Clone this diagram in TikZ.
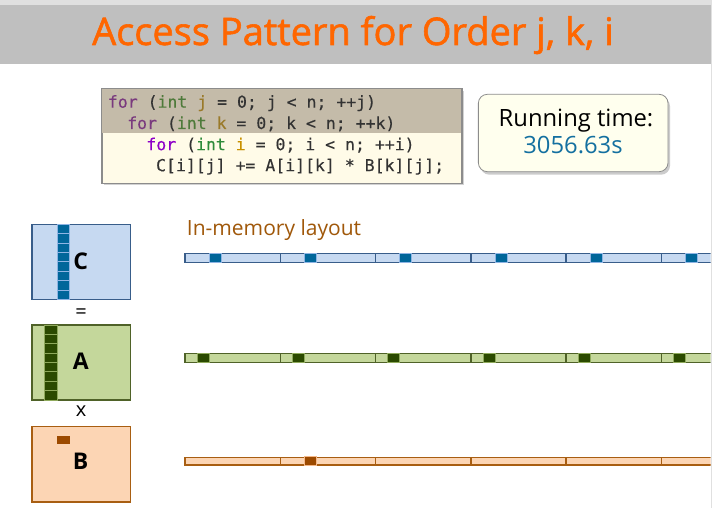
\documentclass[tikz,border=0pt]{standalone}
\usepackage{fontspec}
\setmainfont{Open Sans}
\setmonofont{DejaVu Sans Mono}
\usetikzlibrary{shadows}
\definecolor{topgray}{HTML}{E0E0E0}
\definecolor{headgray}{HTML}{BFBFBF}
\definecolor{titleorange}{HTML}{FF6600}
\definecolor{codeshade}{HTML}{C4BBA9}
\definecolor{codecream}{HTML}{FFFBE8}
\definecolor{codeborder}{HTML}{8C8C8C}
\definecolor{codetext}{HTML}{333333}
\definecolor{kwdim}{HTML}{7A3A7E}
\definecolor{intdim}{HTML}{4E7A3A}
\definecolor{vardim}{HTML}{9A7A2A}
\definecolor{kw}{HTML}{8E00C8}
\definecolor{intc}{HTML}{2E8B3A}
\definecolor{varc}{HTML}{C89000}
\definecolor{runfill}{HTML}{FFFFEE}
\definecolor{runblue}{HTML}{1470A0}
\definecolor{layoutbrown}{HTML}{A0580A}
\definecolor{cFill}{HTML}{C6D9F1}
\definecolor{cEdge}{HTML}{385D8A}
\definecolor{cDark}{HTML}{00669A}
\definecolor{cLight}{HTML}{8EB4E3}
\definecolor{aFill}{HTML}{C4D79B}
\definecolor{aEdge}{HTML}{4F6228}
\definecolor{aDark}{HTML}{2B4A00}
\definecolor{aLight}{HTML}{8FAA5C}
\definecolor{bFill}{HTML}{FCD5B4}
\definecolor{bEdge}{HTML}{A85E12}
\definecolor{bDark}{HTML}{9C4A00}
\definecolor{bLight}{HTML}{F5B888}
\tikzset{
  codeline/.style={anchor=base west, inner sep=0pt, text=codetext, font=\ttfamily\fontsize{16.5}{16}\selectfont\addfontfeatures{FakeBold=0.3}},
  matlabel/.style={inner sep=0pt, font=\bfseries\fontsize{23}{23}\selectfont},
  oplabel/.style={inner sep=0pt, font=\fontsize{20}{20}\selectfont},
}
\begin{document}
\begin{tikzpicture}[x=1pt,y=-1pt]
\useasboundingbox (0,0) rectangle (712,508);
\fill[white] (0,0) rectangle (712,508);
\fill[topgray] (0,0) rectangle (712,5);
\fill[headgray] (0,5) rectangle (710.5,64.5);
\draw[topgray, line width=1pt] (711.2,0) -- (711.2,508);
\node[anchor=base, inner sep=0pt, text=titleorange, font=\fontsize{38}{38}\selectfont\addfontfeatures{FakeBold=1.5}] (title) at (353,45) {Access Pattern for Order j, k, i};
% code box
\node[draw=codeborder, fill=codecream, line width=0.8pt, minimum width=360pt, minimum height=94.7pt, anchor=north west, inner sep=0pt, drop shadow={shadow xshift=2pt, shadow yshift=-2pt, opacity=0.35}] (code) at (101.7,88.3) {};
\fill[codeshade] (101.7,88.3) rectangle (461.7,133.3);
\draw[codeborder, line width=0.8pt] (101.7,88.3) rectangle (461.7,183);
\node[codeline] (l1) at (107.7,107.7) {\textcolor{kwdim}{for} (\textcolor{intdim}{int} \textcolor{vardim}{j} = 0; j < n; ++j)};
\node[codeline] (l2) at (127,129) {\textcolor{kwdim}{for} (\textcolor{intdim}{int} \textcolor{vardim}{k} = 0; k < n; ++k)};
\node[codeline] (l3) at (146.2,150.2) {\textcolor{kw}{for} (\textcolor{intc}{int} \textcolor{varc}{i} = 0; i < n; ++i)};
\node[codeline] (l4) at (155.9,171.2) {C[i][j] += A[i][k] * B[k][j];};
% running time
\node[draw=codeborder, fill=runfill, line width=0.8pt, rounded corners=9pt, minimum width=189.7pt, minimum height=77.4pt, inner sep=0pt, drop shadow={shadow xshift=2pt, shadow yshift=-3pt, opacity=0.4}] (run) at (573.2,133) {};
\node[anchor=base, inner sep=0pt, font=\fontsize{23.8}{24}\selectfont] (rt1) at (576,126.7) {Running time:};
\node[anchor=base, inner sep=0pt, text=runblue, font=\fontsize{23.8}{24}\selectfont] (rt2) at (573,153.3) {3056.63s};
% matrix C
\filldraw[fill=cFill, draw=cEdge, line width=1.6pt] (32,224.3) rectangle (130.3,299.3);
\fill[cDark] (57.3,224.3) rectangle (69.3,299.3);
\foreach \k in {1,...,7} {\draw[cLight, line width=0.8pt] (57.3,224.3+\k*9.375) -- (69.3,224.3+\k*9.375);}
\draw[cLight, line width=0.8pt] (57.3,224.3) rectangle (69.3,299.3);
\node[matlabel] (Clab) at (80.7,261.5) {C};
\node[oplabel] (eq) at (81,313.7) {=};
% matrix A
\filldraw[fill=aFill, draw=aEdge, line width=1.6pt] (32,325) rectangle (130.3,400);
\fill[aDark] (44.3,325) rectangle (57,400);
\foreach \k in {1,...,7} {\draw[aLight, line width=0.8pt] (44.3,325+\k*9.375) -- (57,325+\k*9.375);}
\draw[aLight, line width=0.8pt] (44.3,325) rectangle (57,400);
\node[matlabel] (Alab) at (80.7,361) {A};
\node[oplabel] (times) at (81,411.5) {x};
% matrix B
\filldraw[fill=bFill, draw=bEdge, line width=1.6pt] (32,426.3) rectangle (130.3,501.7);
\fill[bDark] (57.3,435.7) rectangle (69.7,444.3);
\node[matlabel] (Blab) at (80.7,461.7) {B};
% in-memory layout
\node[anchor=base west, inner sep=0pt, text=layoutbrown, font=\fontsize{21}{21}\selectfont] (layout) at (186.7,235.7) {In-memory layout};
\begin{scope}
\clip (180,240) rectangle (710.5,480);
% C bar
\filldraw[fill=cFill, draw=cEdge, line width=1.3pt] (185,253.8) rectangle (730,262.8);
\foreach \k in {1,...,5} {\draw[cEdge, line width=1.5pt] (185+\k*95.3,253.8) -- (185+\k*95.3,262.8);}
\foreach \k in {0,...,5} {\filldraw[fill=cDark, draw=cLight, line width=0.8pt] (185+\k*95.3+24,253.8) rectangle (185+\k*95.3+36,262.8);}
% A bar
\filldraw[fill=aFill, draw=aEdge, line width=1.3pt] (185,353.2) rectangle (730,362.2);
\foreach \k in {1,...,5} {\draw[aEdge, line width=1.5pt] (185+\k*95.3,353.2) -- (185+\k*95.3,362.2);}
\foreach \k in {0,...,5} {\filldraw[fill=aDark, draw=aLight, line width=0.8pt] (185+\k*95.3+12,353.2) rectangle (185+\k*95.3+24,362.2);}
% B bar
\filldraw[fill=bFill, draw=bEdge, line width=1.3pt] (185,457.6) rectangle (730,465);
\foreach \k in {1,...,5} {\draw[bEdge, line width=1.5pt] (185+\k*95.3,457.6) -- (185+\k*95.3,465);}
\filldraw[fill=bDark, draw=bLight, line width=0.8pt] (304.3,456.8) rectangle (316.8,465.8);
\end{scope}
\end{tikzpicture}
\end{document}
